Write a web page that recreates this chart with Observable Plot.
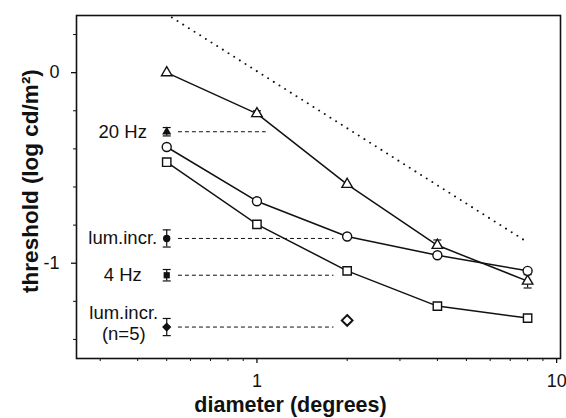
<!DOCTYPE html>
<html>
<head>
<meta charset="utf-8">
<script src="https://cdn.jsdelivr.net/npm/d3@7"></script>
<script src="https://cdn.jsdelivr.net/npm/@observablehq/plot@0.6"></script>
<style>
  html, body { margin: 0; padding: 0; background: #fff; }
  #chart { width: 566px; height: 418px; }
</style>
</head>
<body>
<div id="chart"></div>
<script>
// ---- data ----
const diameters = [0.5, 1, 2, 4, 8];
const triangleVals = [0.0, -0.215, -0.586, -0.906, -1.094];
const circleVals = [-0.39, -0.675, -0.86, -0.958, -1.04];
const squareVals = [-0.47, -0.796, -1.04, -1.225, -1.288];

const openDiamondX = [2];
const openDiamondY = [-1.30];

// triangle-series error bars
const triErrX = [1, 4, 8];
const triErrLo = [-0.23, -0.906, -1.13];
const triErrHi = [-0.20, -0.878, -1.06];

// reference (filled) measurements at 0.5 deg
const refX = 0.5;
const refLabels = ["20 Hz", "lum.incr.", "4 Hz", "lum.incr.\n(n=5)"];
const refVals = [-0.31, -0.87, -1.063, -1.335];
const refErr = [0.022, 0.045, 0.03, 0.045];
const refSymbols = ["triangle", "circle", "square", "diamond2"];
const refDashStart = 0.545;
const refDashEnd = [1.07, 1.8, 1.8, 1.8];

// dotted slope line (two end points)
const dottedX = [0.52, 8];
const dottedY = [0.29, -0.89];

// ticks
const xMajorTicks = [1, 10];
const xMinorTicks = [0.3, 0.4, 0.5, 0.6, 0.7, 0.8, 0.9, 2, 3, 4, 5, 6, 7, 8, 9];
const yMajorTicks = [0, -1];
const yMinorTicks = [0.2, -0.2, -0.4, -0.6, -0.8, -1.2, -1.4];

const xTitle = "diameter (degrees)";
const yTitle = "threshold (log cd/m²)";

// ---- build tables ----
const series = [
  {name: "triangle", vals: triangleVals, symbol: "triangle", r: 3.9},
  {name: "circle", vals: circleVals, symbol: "circle", r: 4.5},
  {name: "square", vals: squareVals, symbol: "square", r: 4.7}
];
const seriesRows = series.flatMap(s => diameters.map((d, i) => ({x: d, y: s.vals[i], s: s.name})));
const refRows = refLabels.map((l, i) => ({
  label: l, y: refVals[i], lo: refVals[i] - refErr[i], hi: refVals[i] + refErr[i],
  symbol: refSymbols[i], x2: refDashEnd[i], multi: l.includes("\n")
}));
const triErrRows = triErrX.map((x, i) => ({x, lo: triErrLo[i], hi: triErrHi[i]}));
const dottedRows = dottedX.map((x, i) => ({x, y: dottedY[i]}));
const openDiamondRows = openDiamondX.map((x, i) => ({x, y: openDiamondY[i]}));

const capSymbol = {
  draw(context, size) {
    const r = Math.sqrt(size / Math.PI);
    context.moveTo(-r, 0);
    context.lineTo(r, 0);
  }
};
const refSizes = {triangle: 3.4, circle: 3.7, square: 3.5, diamond2: 4.2};

const ink = "#111";
const marks = [];

// axes
marks.push(Plot.axisX(xMajorTicks, {tickSize: 5, tickPadding: 11, fontSize: 18, tickFormat: d => String(d), label: null, strokeWidth: 1.3}));
marks.push(Plot.axisX(xMinorTicks, {tickSize: 3, tickFormat: () => "", label: null, strokeWidth: 1}));
marks.push(Plot.axisY(yMajorTicks, {tickSize: 5, tickPadding: 12, fontSize: 18, tickFormat: d => String(d), label: null, strokeWidth: 1.3}));
marks.push(Plot.axisY(yMinorTicks, {tickSize: 3, tickFormat: () => "", label: null, strokeWidth: 1}));
marks.push(Plot.frame({stroke: ink, strokeWidth: 1.6}));

// dotted slope line
marks.push(Plot.line(dottedRows, {x: "x", y: "y", stroke: ink, strokeWidth: 1.9, strokeDasharray: "0.1,6.6", strokeLinecap: "round"}));

// dashed reference lines
marks.push(Plot.link(refRows, {x1: () => refDashStart, x2: "x2", y1: "y", y2: "y", stroke: ink, strokeWidth: 1, strokeDasharray: "4,3"}));

// series lines
for (const s of series) {
  marks.push(Plot.line(seriesRows.filter(d => d.s === s.name), {x: "x", y: "y", stroke: ink, strokeWidth: 1.5}));
}

// triangle error bars
marks.push(Plot.ruleX(triErrRows, {x: "x", y1: "lo", y2: "hi", stroke: ink, strokeWidth: 1.2}));
marks.push(Plot.dot(triErrRows, {x: "x", y: "lo", symbol: capSymbol, r: 4, stroke: ink, strokeWidth: 1.2}));
marks.push(Plot.dot(triErrRows, {x: "x", y: "hi", symbol: capSymbol, r: 4, stroke: ink, strokeWidth: 1.2}));

// open symbols
for (const s of series) {
  marks.push(Plot.dot(seriesRows.filter(d => d.s === s.name), {x: "x", y: "y", symbol: s.symbol, r: s.r, fill: "white", stroke: ink, strokeWidth: 1.4}));
}
marks.push(Plot.dot(openDiamondRows, {x: "x", y: "y", symbol: "diamond2", r: 4.8, fill: "white", stroke: ink, strokeWidth: 2}));

// reference error bars + filled symbols
marks.push(Plot.ruleX(refRows, {x: () => refX, y1: "lo", y2: "hi", stroke: ink, strokeWidth: 1.2}));
marks.push(Plot.dot(refRows, {x: () => refX, y: "lo", symbol: capSymbol, r: 4, stroke: ink, strokeWidth: 1.2}));
marks.push(Plot.dot(refRows, {x: () => refX, y: "hi", symbol: capSymbol, r: 4, stroke: ink, strokeWidth: 1.2}));
for (const sym of refSymbols) {
  marks.push(Plot.dot(refRows.filter(d => d.symbol === sym), {x: () => refX, y: "y", symbol: sym, r: refSizes[sym], fill: ink, stroke: "none"}));
}

// labels
marks.push(Plot.text(refRows.filter(d => !d.multi), {x: () => refX, y: "y", text: "label", dx: -44, textAnchor: "middle", fontSize: 18.5, fill: ink}));
marks.push(Plot.text(refRows.filter(d => d.multi), {x: () => refX, y: "y", text: "label", dx: -43, dy: -4, textAnchor: "middle", fontSize: 18.5, lineHeight: 1.1, fill: ink}));

// axis titles
marks.push(Plot.text([xTitle], {frameAnchor: "bottom", text: d => d, dx: -28, dy: 53, fontSize: 21.5, fontWeight: "bold", textAnchor: "middle", fill: ink}));
marks.push(Plot.text([yTitle], {frameAnchor: "left", text: d => d, dx: -46, dy: -6, rotate: -90, fontSize: 22.5, fontWeight: "bold", textAnchor: "middle", fill: ink}));

const chart = Plot.plot({
  width: 566,
  height: 418,
  marginLeft: 76,
  marginRight: 6,
  marginTop: 15,
  marginBottom: 60,
  x: {type: "log", domain: [0.25, 10.3]},
  y: {domain: [-1.5, 0.3]},
  style: {fontFamily: "'Liberation Sans', Arial, sans-serif", background: "white", color: ink, overflow: "visible"},
  marks
});
document.getElementById("chart").appendChild(chart);
</script>
</body>
</html>
